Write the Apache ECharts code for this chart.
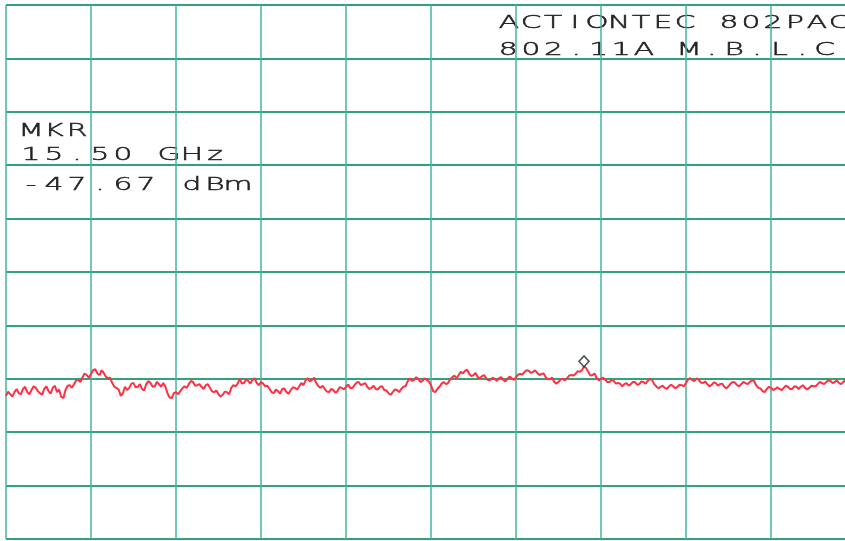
<!DOCTYPE html>
<html>
<head>
<meta charset="utf-8">
<script src="https://cdn.jsdelivr.net/npm/echarts@6/dist/echarts.min.js"></script>
<style>
html,body{margin:0;padding:0;background:#ffffff;}
#chart{width:845px;height:541px;}
</style>
</head>
<body>
<div id="chart"></div>
<script>
// Sweep settings (GHz) and amplitude scale (dBm)
const sweepStartGHz = 2;
const sweepStopGHz = 22;
const freqDivGHz = 2;
const refLevelDbm = 20;
const bottomDbm = -80;
const dbPerDiv = 10;

// Trace amplitude (dBm), one value per sweep point (401 points)
const traceDbm = [
  -53.2,-52.4,-52.9,-53.3,-52.5,-51.9,-52.7,-52.9,-51.9,-51.5,-52.5,-52.9,-52.1,-51.4,-51.7,-52.3,-52.7,-53.0,-51.9,-51.4,
  -52.3,-52.8,-51.7,-51.3,-52.5,-52.0,-53.4,-53.6,-52.1,-51.3,-51.2,-51.7,-51.0,-50.3,-50.2,-50.6,-49.7,-49.0,-49.3,-49.8,
  -49.1,-48.4,-48.2,-49.0,-49.3,-48.4,-48.9,-49.6,-49.9,-49.8,-50.8,-51.5,-51.7,-52.0,-53.2,-52.7,-51.5,-52.1,-51.7,-50.9,
  -50.8,-51.6,-51.5,-51.0,-51.9,-52.2,-51.0,-50.4,-50.8,-51.5,-51.4,-50.6,-51.0,-51.5,-50.8,-51.5,-52.7,-53.5,-53.6,-52.7,
  -52.5,-52.9,-52.3,-51.8,-51.4,-51.7,-51.0,-50.4,-50.6,-51.3,-51.2,-51.0,-51.5,-51.9,-51.2,-51.0,-51.7,-52.4,-52.5,-52.2,
  -52.9,-53.3,-53.0,-52.4,-52.5,-52.9,-51.7,-51.2,-51.4,-50.9,-50.0,-50.9,-50.8,-50.1,-50.4,-50.9,-50.2,-49.9,-50.8,-51.2,
  -50.6,-50.9,-51.4,-51.3,-51.9,-52.5,-52.7,-52.0,-52.3,-52.8,-51.9,-51.8,-52.5,-52.8,-52.1,-51.6,-51.7,-52.0,-51.4,-50.8,
  -51.2,-50.3,-49.9,-50.5,-50.2,-49.8,-50.8,-51.4,-51.7,-51.3,-51.9,-52.4,-52.5,-51.9,-52.1,-52.6,-52.3,-51.6,-51.7,-52.0,
  -51.5,-51.1,-51.7,-51.7,-51.2,-50.7,-50.6,-51.2,-51.0,-50.8,-51.5,-51.9,-51.7,-51.3,-51.9,-52.0,-51.5,-51.4,-52.1,-52.2,
  -52.7,-53.0,-52.5,-52.0,-52.1,-52.5,-51.9,-51.5,-51.4,-50.5,-49.9,-50.4,-50.2,-49.7,-50.0,-50.6,-50.4,-49.9,-50.2,-50.5,
  -51.2,-52.3,-52.5,-51.9,-51.5,-50.9,-50.6,-51.0,-50.8,-50.1,-49.7,-49.4,-49.9,-49.3,-48.7,-49.0,-48.5,-48.3,-49.1,-49.5,
  -49.3,-48.9,-49.7,-49.9,-49.5,-49.3,-49.9,-50.3,-50.2,-49.8,-50.0,-50.4,-49.9,-49.7,-50.2,-50.5,-50.0,-49.6,-49.9,-50.2,
  -49.7,-49.2,-49.1,-49.2,-48.7,-48.4,-48.5,-48.9,-48.7,-48.4,-48.9,-49.3,-49.1,-49.0,-49.7,-50.1,-50.0,-49.8,-50.6,-50.9,
  -50.6,-50.1,-50.0,-50.3,-49.9,-49.4,-49.3,-49.4,-49.1,-48.6,-48.7,-48.4,-47.7,-48.0,-48.7,-49.4,-49.3,-49.0,-49.9,-50.3,
  -50.0,-49.8,-50.2,-50.6,-50.6,-50.2,-50.4,-50.9,-50.8,-50.9,-51.4,-51.0,-50.8,-51.3,-51.0,-50.6,-50.6,-51.1,-51.0,-50.5,
  -50.6,-50.9,-50.4,-50.0,-50.2,-51.0,-51.4,-51.8,-51.5,-51.3,-51.7,-51.9,-51.4,-51.1,-51.4,-51.8,-51.5,-51.1,-51.2,-51.4,
  -50.8,-50.1,-49.9,-50.3,-50.4,-49.9,-50.2,-50.7,-50.8,-50.5,-51.0,-51.4,-51.2,-50.7,-50.8,-51.3,-51.0,-50.9,-51.5,-51.8,
  -51.4,-50.9,-50.6,-50.7,-51.2,-51.4,-51.0,-50.6,-50.8,-51.0,-50.6,-50.3,-50.4,-51.2,-51.7,-51.8,-52.3,-52.5,-51.9,-51.5,
  -51.7,-52.1,-51.9,-51.6,-51.9,-52.1,-51.7,-51.3,-51.5,-51.9,-51.9,-51.4,-51.5,-51.9,-51.5,-51.2,-51.7,-52.0,-51.7,-51.3,
  -51.4,-51.4,-51.0,-50.6,-50.8,-51.0,-50.6,-50.3,-50.4,-50.8,-50.6,-50.3,-50.8,-51.0,-50.6,-50.2,-50.4,-50.8,-50.6,-50.2,
  -50.4
];

// Marker (sweep point index and readout)
const markerIndex = 272;
const markerDbm = -47.67;
const markerLines = ['MKR', '15.50 GHz', '-47.67 dBm'];
const titleLines = ['ACTIONTEC 802PAC', '802.11A M.B.L.C'];

const nPts = traceDbm.length;
const stepGHz = (sweepStopGHz - sweepStartGHz) / (nPts - 1);
const traceData = traceDbm.map((v, i) => [sweepStartGHz + i * stepGHz, v]);
const markerData = [[sweepStartGHz + markerIndex * stepGHz, markerDbm]];

// plotter-style text: fixed-pitch, horizontally stretched glyphs
const FONT = '"DejaVu Sans", "Liberation Sans", sans-serif';
const SCALE_X = 1.65;
const FSIZE = 18;
function plotterText(str, x, y, pitch) {
  const cell = pitch / SCALE_X;
  const text = str.split('').map(ch => '{c|' + ch + '}').join('');
  return {
    type: 'text',
    x: x, y: y,
    scaleX: SCALE_X,
    scaleY: 1,
    silent: true,
    style: {
      text: text,
      x: 0, y: 0,
      align: 'left',
      verticalAlign: 'middle',
      fill: '#222222',
      stroke: '#2a2a2a',
      lineWidth: 0.5,
      font: '200 ' + FSIZE + 'px ' + FONT,
      rich: {
        c: {
          width: cell, align: 'center', fontSize: FSIZE, fontWeight: 200, fontFamily: FONT,
          fill: '#222222', stroke: '#2a2a2a', lineWidth: 0.5
        }
      }
    }
  };
}

const chart = echarts.init(document.getElementById('chart'), null, { renderer: 'canvas' });
chart.setOption({
  backgroundColor: '#ffffff',
  animation: false,
  grid: { left: 6, right: -11, top: 5, bottom: 2, containLabel: false, outerBoundsMode: 'none' },
  xAxis: {
    type: 'value',
    min: sweepStartGHz, max: sweepStopGHz, interval: freqDivGHz,
    axisLine: { show: false },
    axisTick: { show: false },
    axisLabel: { show: false },
    splitLine: { show: true, lineStyle: { color: '#45b5a2', width: 1.5 } }
  },
  yAxis: {
    type: 'value',
    min: bottomDbm, max: refLevelDbm, interval: dbPerDiv,
    axisLine: { show: false },
    axisTick: { show: false },
    axisLabel: { show: false },
    splitLine: { show: true, lineStyle: { color: '#33a278', width: 2 } }
  },
  series: [
    {
      type: 'line',
      data: traceData,
      showSymbol: false,
      symbol: 'none',
      lineStyle: { color: '#ff2f44', width: 2 },
      z: 3
    },
    {
      type: 'scatter',
      data: markerData,
      symbol: 'diamond',
      symbolSize: [10, 11],
      symbolOffset: [0, -5],
      itemStyle: { color: '#ffffff', borderColor: '#2a2a2a', borderWidth: 1.6 },
      z: 4
    }
  ],
  graphic: [
    plotterText(markerLines[0], 19.5, 131, 23),
    plotterText(markerLines[1], 19.5, 155, 23),
    plotterText(markerLines[2], 19.5, 185.5, 23),
    plotterText(titleLines[0], 498, 23, 22.0),
    plotterText(titleLines[1], 497, 50, 22.6)
  ]
});
</script>
</body>
</html>
